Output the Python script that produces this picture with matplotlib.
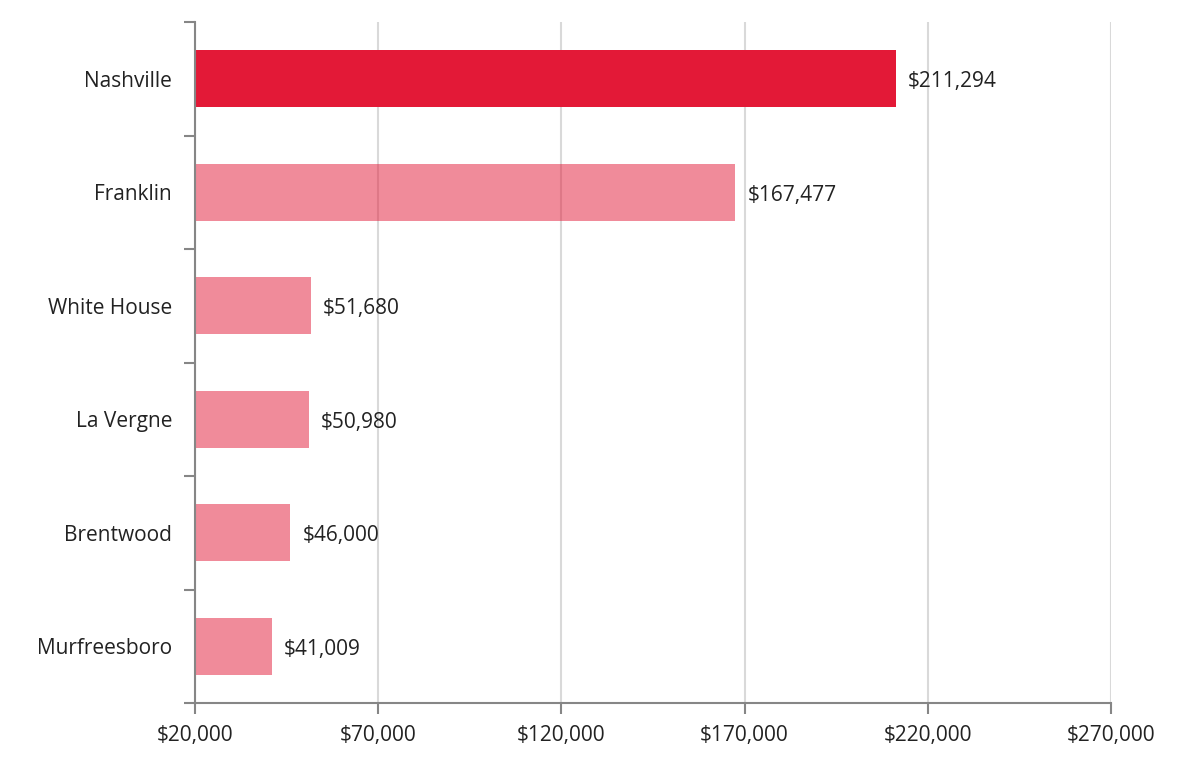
import matplotlib.pyplot as plt
from matplotlib.ticker import FuncFormatter

# datos
ciudades = ['Nashville', 'Franklin', 'White House', 'La Vergne', 'Brentwood', 'Murfreesboro']
valores = [211294, 167477, 51680, 50980, 46000, 41009]
x_ticks = [20000, 70000, 120000, 170000, 220000, 270000]

plt.rcParams['font.family'] = ['Open Sans', 'DejaVu Sans']

fig = plt.figure(figsize=(11.92, 7.62), dpi=100)
ax = fig.add_axes([195 / 1192, 1 - 703 / 762, (1111 - 195) / 1192, (703 - 22) / 762])

rojo = '#E31937'
pos = list(range(len(ciudades)))
base = x_ticks[0]
for i, (c, v) in enumerate(zip(ciudades, valores)):
    alpha = 1.0 if i == 0 else 0.5
    ax.barh(i, v - base, left=base, height=0.5, color=rojo, alpha=alpha, zorder=2)
    ax.text(v + 3300, i + 0.025, f'${v:,}', va='center', ha='left', fontsize=15, color='#222222')

ax.set_xlim(x_ticks[0], x_ticks[-1])
ax.set_ylim(len(ciudades) - 0.5, -0.5)
ax.set_xticks(x_ticks)
ax.xaxis.set_major_formatter(FuncFormatter(lambda x, p: f'${x:,.0f}'))
ax.set_yticks(pos)
ax.set_yticklabels(ciudades)
ax.set_yticks([p - 0.5 for p in pos] + [len(pos) - 0.5], minor=True)

ax.grid(axis='x', color='#d9d9d9', linewidth=1.5, zorder=0)
ax.set_axisbelow(True)

for s in ['top', 'right']:
    ax.spines[s].set_visible(False)
for s in ['left', 'bottom']:
    ax.spines[s].set_color('#868686')
    ax.spines[s].set_linewidth(1.5)

ax.tick_params(axis='y', which='major', length=0, pad=16.5, labelsize=15, labelcolor='#222222')
ax.tick_params(axis='y', which='minor', length=8, width=1.5, color='#868686')
ax.tick_params(axis='x', length=8, width=1.5, color='#868686', pad=8, labelsize=15, labelcolor='#222222')

fig.savefig('out.png', dpi=100)
